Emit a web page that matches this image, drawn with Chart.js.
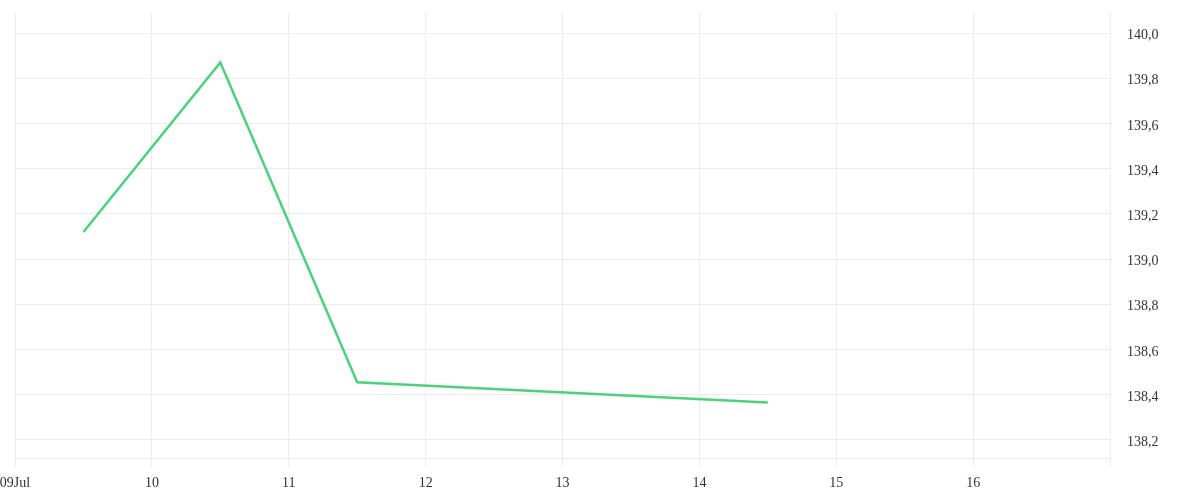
<!DOCTYPE html>
<html>
<head>
<meta charset="utf-8">
<script src="https://cdn.jsdelivr.net/npm/chart.js@4/dist/chart.umd.min.js"></script>
<style>
    html, body { margin: 0; padding: 0; background: #fff; }
    canvas { display: block; }
</style>
</head>
<body>
<canvas id="priceChart" width="1200" height="500"></canvas>
<script>
// July days (x) and close values (y)
const days = [9.5, 10.5, 11.5, 14.5];
const prices = [139.12, 139.87, 138.455, 138.365];
const dayTicks = [9, 10, 11, 12, 13, 14, 15, 16, 17];

const gridColor = '#ececec';
const textColor = '#333';
const tickFont = { family: 'Liberation Serif', size: 14 };

const points = days.map((d, i) => ({ x: d, y: prices[i] }));

const config = {
    type: 'line',
    data: {
        datasets: [
            {
                data: points,
                borderColor: '#4dd27c',
                borderWidth: 2.5,
                pointRadius: 0,
                tension: 0,
                fill: false
            }
        ]
    },
    options: {
        responsive: false,
        animation: false,
        layout: {
            padding: { top: 12, left: 0, right: 0, bottom: 0 }
        },
        plugins: {
            legend: { display: false },
            tooltip: { enabled: false }
        },
        scales: {
            x: {
                type: 'linear',
                min: 9,
                max: 17,
                afterBuildTicks: (scale) => {
                    scale.ticks = dayTicks.map(v => ({ value: v }));
                },
                ticks: {
                    autoSkip: false,
                    maxRotation: 0,
                    color: textColor,
                    font: tickFont,
                    padding: 8,
                    callback: (v) => {
                        if (v === 9) return '09Jul';
                        if (v === 17) return '';
                        return String(v);
                    }
                },
                grid: {
                    color: gridColor,
                    drawTicks: true,
                    tickLength: 9
                },
                border: { display: true, color: gridColor },
                afterFit: (scale) => {
                    scale.height = 42;
                    scale.paddingLeft = 15;
                    scale.paddingRight = 0;
                }
            },
            y: {
                position: 'right',
                min: 138.12,
                max: 140.093,
                ticks: {
                    stepSize: 0.2,
                    includeBounds: false,
                    color: textColor,
                    font: tickFont,
                    padding: 17,
                    labelOffset: 2.5,
                    callback: (v) => v.toFixed(1).replace('.', ',')
                },
                grid: {
                    color: gridColor,
                    drawTicks: false
                },
                border: { display: false },
                afterFit: (scale) => {
                    scale.width = 90;
                    scale.paddingTop = 0;
                    scale.paddingBottom = 0;
                }
            }
        }
    }
};

const ctx = document.getElementById('priceChart').getContext('2d');
const chart = new Chart(ctx, config);
</script>
</body>
</html>
